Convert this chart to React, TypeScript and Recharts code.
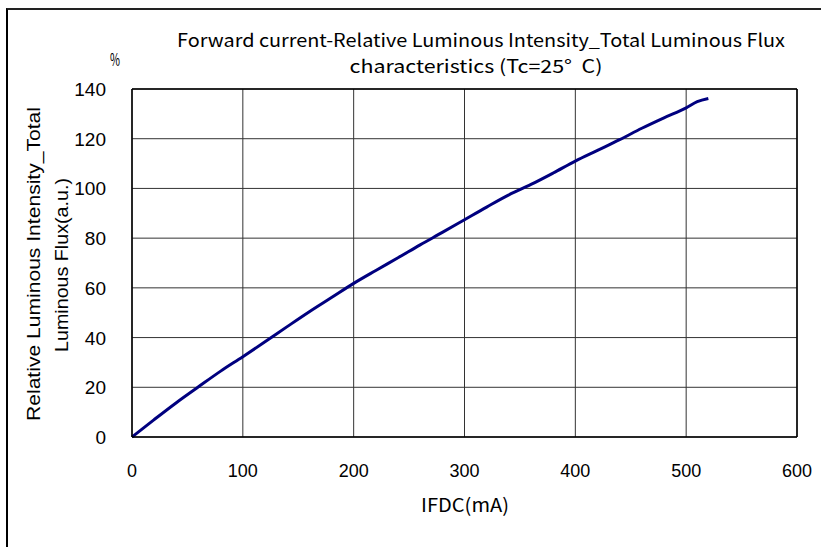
import React from "react";
import { LineChart, Line, XAxis, YAxis, CartesianGrid, ReferenceLine } from "recharts";

const currentMA = [0, 20, 40, 60, 80, 100, 120, 140, 160, 180, 200, 220, 240, 260, 280, 300, 320, 340, 360, 380, 400, 420, 440, 460, 480, 500, 510, 520];
const relIntensity = [0, 7, 13.8, 20.2, 26.5, 32.3, 38.3, 44.4, 50.4, 56.1, 61.8, 67, 72.1, 77.3, 82.3, 87.4, 92.5, 97.4, 101.6, 106.2, 111, 115.3, 119.6, 124.2, 128.4, 132.4, 134.9, 136.2];
const xTicks = [0, 100, 200, 300, 400, 500, 600];
const yTicks = [0, 20, 40, 60, 80, 100, 120, 140];

const data = currentMA.map((x, i) => ({ x, y: relIntensity[i] }));

const titleLine1 = "Forward current-Relative Luminous Intensity_Total Luminous Flux";
const titleLine2 = "characteristics (Tc=25°\u00a0 C)";
const xTitle = "IFDC(mA)";
const yTitle1 = "Relative Luminous Intensity_Total";
const yTitle2 = "Luminous Flux(a.u.)";

const jpFont = "'Noto Sans CJK JP', 'Liberation Sans', sans-serif";
const sansFont = "'Liberation Sans', Arial, sans-serif";

const XTick = (props: any) => {
  const { x, payload } = props;
  return (
    <text x={x} y={477} textAnchor="middle" fontFamily={sansFont} fontSize={19} fill="#000" textLength={String(payload.value).length * 10} lengthAdjust="spacingAndGlyphs">
      {payload.value}
    </text>
  );
};

const YTick = (props: any) => {
  const { x, y, payload } = props;
  return (
    <text x={x - 18} y={y + 7} textAnchor="end" fontFamily={sansFont} fontSize={19} fill="#000">
      {payload.value}
    </text>
  );
};

export default function App() {
  return (
    <div style={{ position: "absolute", left: 0, top: 0, width: 821, height: 547, background: "#fff", overflow: "hidden" }}>
      <div style={{ position: "absolute", left: 6, top: 8, width: 815, height: 539, borderLeft: "2px solid #000", borderTop: "2px solid #222", boxSizing: "border-box" }} />
      <div style={{ position: "absolute", left: 0, top: 0 }}>
        <LineChart width={821} height={547} data={data} margin={{ top: 89, right: 24, bottom: 80, left: 82 }}>
          <CartesianGrid stroke="#333" strokeWidth={1} horizontalValues={yTicks} verticalValues={xTicks} />
          <XAxis dataKey="x" type="number" domain={[0, 600]} ticks={xTicks} height={30} axisLine={{ stroke: "#000", strokeWidth: 1.5 }} tickLine={false} tick={<XTick />} interval={0} />
          <YAxis type="number" domain={[0, 140]} ticks={yTicks} width={50} axisLine={{ stroke: "#000", strokeWidth: 1.5 }} tickLine={false} tick={<YTick />} interval={0} />
          <ReferenceLine y={140} stroke="#000" strokeWidth={1.5} />
          <ReferenceLine x={600} stroke="#000" strokeWidth={1.5} />
          <Line dataKey="y" type="monotone" stroke="#00007f" strokeWidth={3} dot={false} isAnimationActive={false} />
        </LineChart>
      </div>
      <svg width={821} height={547} style={{ position: "absolute", left: 0, top: 0, pointerEvents: "none" }}>
        <text x={481} y={47} textAnchor="middle" fontFamily={jpFont} fontSize={18} fill="#000" textLength={608} lengthAdjust="spacingAndGlyphs">{titleLine1}</text>
        <text x={476} y={73} textAnchor="middle" fontFamily={jpFont} fontSize={18} fill="#000" textLength={253} lengthAdjust="spacingAndGlyphs">{titleLine2}</text>
        <text x={115} y={66} textAnchor="middle" fontFamily={jpFont} fontSize={17} fill="#000" textLength={10} lengthAdjust="spacingAndGlyphs">%</text>
        <text x={465} y={512} textAnchor="middle" fontFamily={jpFont} fontSize={19} fill="#000" textLength={88} lengthAdjust="spacingAndGlyphs">{xTitle}</text>
        <text transform="translate(40,264) rotate(-90)" textAnchor="middle" fontFamily={sansFont} fontSize={19} fill="#000" textLength={314} lengthAdjust="spacingAndGlyphs">{yTitle1}</text>
        <text transform="translate(68,265) rotate(-90)" textAnchor="middle" fontFamily={sansFont} fontSize={19} fill="#000" textLength={174} lengthAdjust="spacingAndGlyphs">{yTitle2}</text>
      </svg>
    </div>
  );
}
